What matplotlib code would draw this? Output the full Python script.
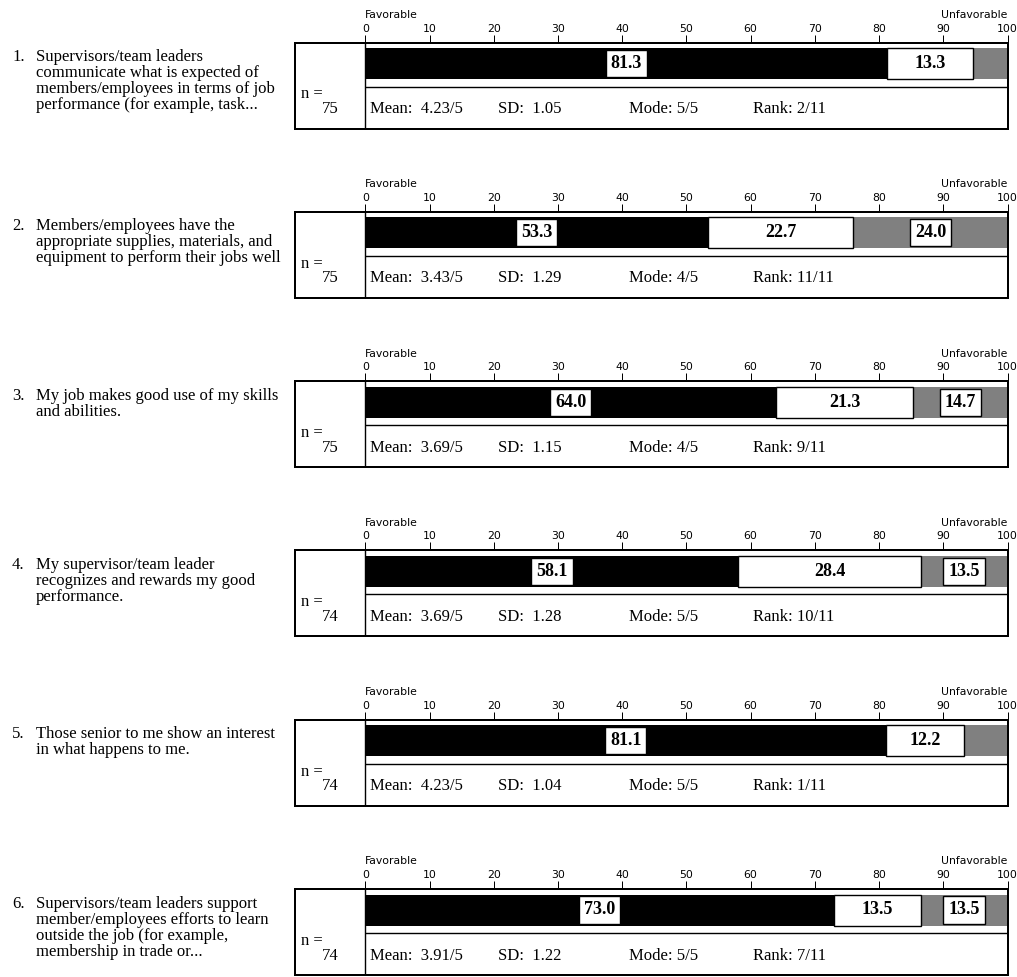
import matplotlib
matplotlib.use("Agg")
import matplotlib.pyplot as plt

# ---- survey items -------------------------------------------------------
questions = [
    "Supervisors/team leaders\ncommunicate what is expected of\n"
    "members/employees in terms of job\nperformance (for example, task...",
    "Members/employees have the\nappropriate supplies, materials, and\n"
    "equipment to perform their jobs well",
    "My job makes good use of my skills\nand abilities.",
    "My supervisor/team leader\nrecognizes and rewards my good\nperformance.",
    "Those senior to me show an interest\nin what happens to me.",
    "Supervisors/team leaders support\nmember/employees efforts to learn\n"
    "outside the job (for example,\nmembership in trade or...",
]
favorable = [81.3, 53.3, 64.0, 58.1, 81.1, 73.0]
neutral = [13.3, 22.7, 21.3, 28.4, 12.2, 13.5]
unfavorable = [5.4, 24.0, 14.7, 13.5, 6.7, 13.5]
n_resp = [75, 75, 75, 74, 74, 74]
means = ["4.23/5", "3.43/5", "3.69/5", "3.69/5", "4.23/5", "3.91/5"]
sds = ["1.05", "1.29", "1.15", "1.28", "1.04", "1.22"]
modes = ["5/5", "4/5", "4/5", "5/5", "5/5", "5/5"]
ranks = ["2/11", "11/11", "9/11", "10/11", "1/11", "7/11"]
ticks = list(range(0, 101, 10))

# ---- layout (pixels) ------------------------------------------------------
W, H, DPI = 1017, 977, 100
BOX_L, ZERO_X, BOX_R = 295.0, 365.3, 1007.5
BOX_H = 86.0
TOP0, STEP = 42.5, 169.3
PX_PER_UNIT = (BOX_R - ZERO_X) / 100.0
XMIN = (BOX_L - ZERO_X) / PX_PER_UNIT

SERIF = "Liberation Serif"
SANS = "DejaVu Sans"
FS = 12
TICK_FS = 7.8
PT = 72.0 / DPI  # points per pixel

fig = plt.figure(figsize=(W / DPI, H / DPI), dpi=DPI)
fig.patch.set_facecolor("white")


def fx(x):
    return x / W


def fy(y):
    return 1.0 - y / H


for i in range(len(questions)):
    top = TOP0 + i * STEP
    ax = fig.add_axes([fx(BOX_L), fy(top + BOX_H), (BOX_R - BOX_L) / W, BOX_H / H])
    ax.set_xlim(XMIN, 100)
    ax.set_ylim(BOX_H, 0)
    for s in ax.spines.values():
        s.set_linewidth(2 * PT)
        s.set_color("black")

    ax.set_xticks(ticks)
    ax.set_xticklabels([str(t) for t in ticks], fontfamily=SANS, fontsize=TICK_FS)
    ax.xaxis.set_ticks_position("top")
    ax.tick_params(axis="x", direction="out", length=8 * PT, width=1 * PT,
                   pad=1.0 * PT, colors="black")
    ax.set_yticks([])

    # stacked bar: favorable / neutral / unfavorable
    bar_y, bar_h = 21.0, 31.0
    f, n, u = favorable[i], neutral[i], unfavorable[i]
    ax.barh(bar_y, f, left=0, height=bar_h, color="black", linewidth=0)
    ax.barh(bar_y, u, left=f + n, height=bar_h, color="#808080", linewidth=0)
    ax.barh(bar_y, n, left=f, height=bar_h, color="white",
            edgecolor="black", linewidth=1.4 * PT)

    boxed = dict(boxstyle="square,pad=0.28", fc="white", ec="black", lw=1.0)
    ax.text(f / 2, bar_y, f"{f:.1f}", ha="center", va="center",
            fontfamily=SERIF, fontsize=13, fontweight="bold", bbox=boxed)
    ax.text(f + n / 2, bar_y, f"{n:.1f}", ha="center", va="center",
            fontfamily=SERIF, fontsize=13, fontweight="bold")
    if u >= 10:
        ax.text(f + n + u / 2, bar_y, f"{u:.1f}", ha="center", va="center",
                fontfamily=SERIF, fontsize=13, fontweight="bold", bbox=boxed)

    # cell dividers
    ax.hlines(44.0, 0, 100, color="black", linewidth=1.4 * PT)
    ax.axvline(0, color="black", linewidth=1.4 * PT)

    # end labels of the scale
    ax.text(0, -22.5, "Favorable", ha="left", va="bottom",
            fontfamily=SANS, fontsize=TICK_FS)
    ax.text(100, -22.5, "Unfavorable", ha="right", va="bottom",
            fontfamily=SANS, fontsize=TICK_FS)

    # respondent count
    ax.text(XMIN + 0.9, 56.0, "n =", ha="left", va="baseline",
            fontfamily=SERIF, fontsize=FS)
    ax.text(XMIN / 2, 70.5, str(n_resp[i]), ha="center", va="baseline",
            fontfamily=SERIF, fontsize=FS)

    # summary statistics
    stats = [(0.8, f"Mean:  {means[i]}"), (20.7, f"SD:  {sds[i]}"),
             (41.0, f"Mode: {modes[i]}"), (60.3, f"Rank: {ranks[i]}")]
    for xs, s in stats:
        ax.text(xs, 70.5, s, ha="left", va="baseline",
                fontfamily=SERIF, fontsize=FS)

    # question wording
    base = top + 18.5
    fig.text(fx(12), fy(base), f"{i + 1}.", ha="left", va="baseline",
             fontfamily=SERIF, fontsize=FS)
    for k, line in enumerate(questions[i].split("\n")):
        fig.text(fx(36), fy(base + k * 16.0), line, ha="left", va="baseline",
                 fontfamily=SERIF, fontsize=FS)

fig.savefig("out.png", dpi=DPI, facecolor="white")
